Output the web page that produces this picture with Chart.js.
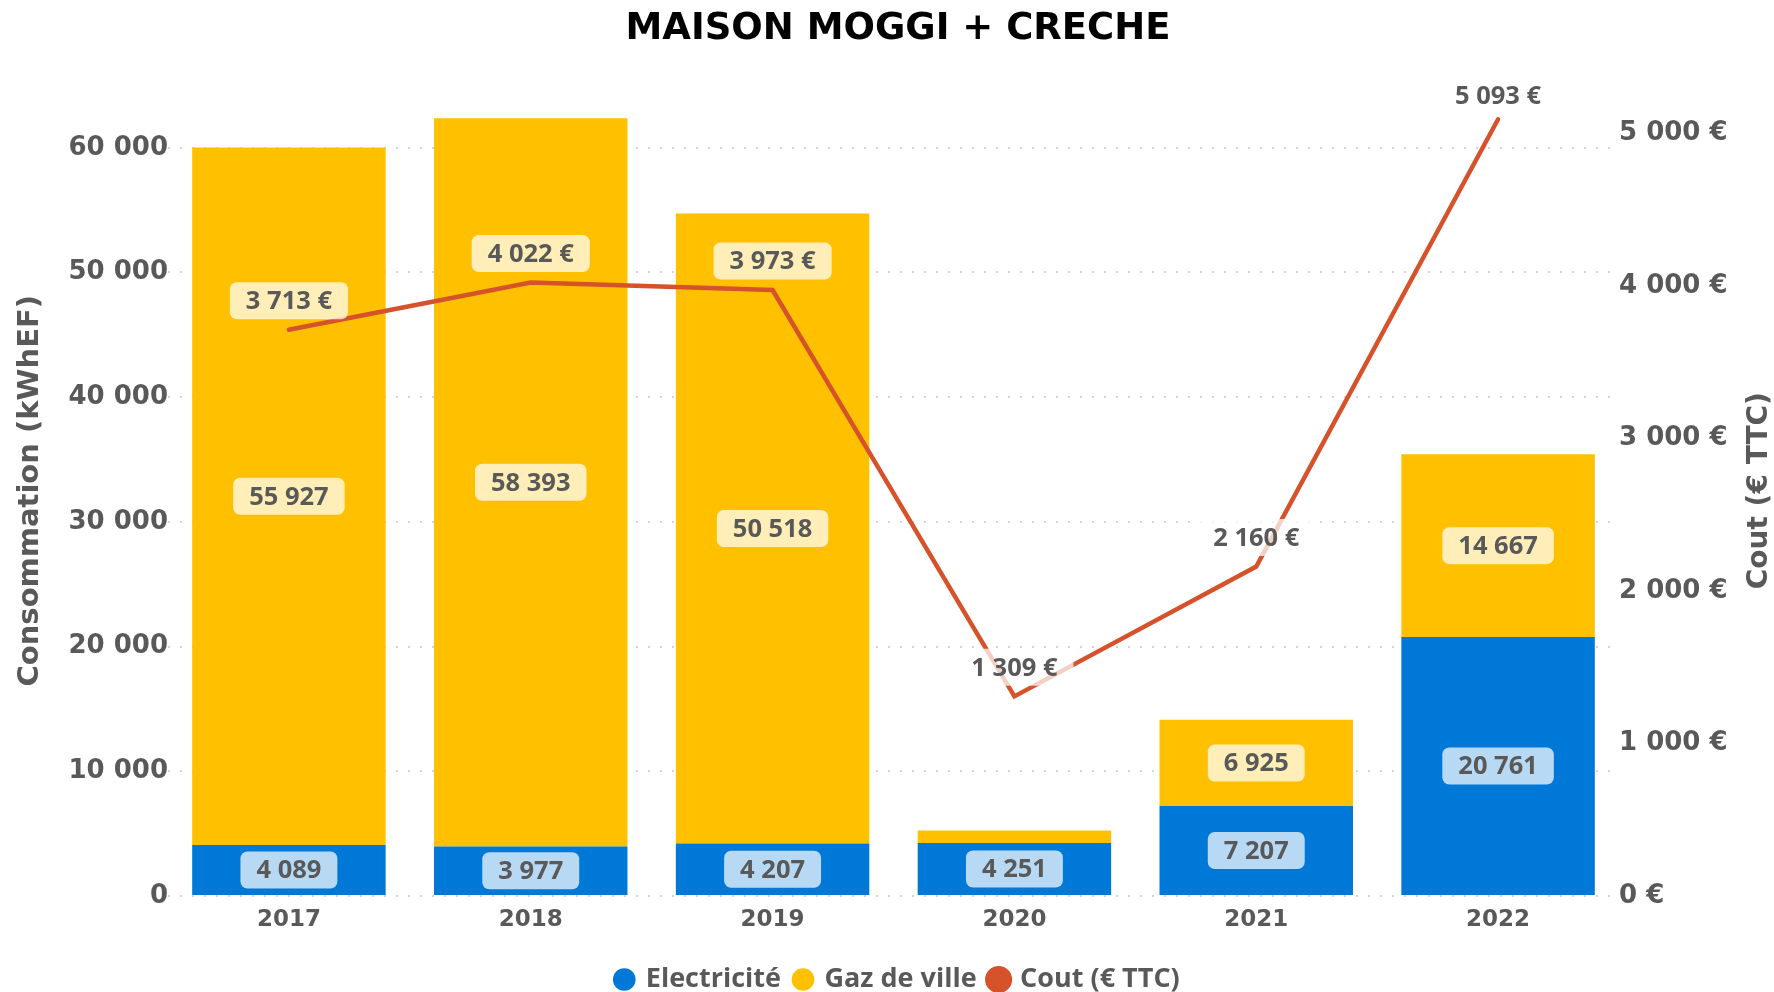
<!DOCTYPE html>
<html>
<head>
<meta charset="utf-8">
<title>MAISON MOGGI + CRECHE</title>
<script src="https://cdn.jsdelivr.net/npm/chart.js@4.4.0/dist/chart.umd.min.js"></script>
<style>
    html, body { margin: 0; padding: 0; background: #fff; }
</style>
</head>
<body>
<canvas id="consoChart" width="1774" height="992"></canvas>
<script>
var years = ['2017', '2018', '2019', '2020', '2021', '2022'];
var electricite = [4089, 3977, 4207, 4251, 7207, 20761];
var gazDeVille = [55927, 58393, 50518, 1000, 6925, 14667];
var cout = [3713, 4022, 3973, 1309, 2160, 5093];
var consoTicks = [0, 10000, 20000, 30000, 40000, 50000, 60000];
var coutTicks = [0, 1000, 2000, 3000, 4000, 5000];
var coutTitle = 'Cout (€ TTC)';

function fmt(v) {
    return String(v).replace(/\B(?=(\d{3})+(?!\d))/g, ' ');
}

// value boxes on bars and on the cost line
var etiquettes = {
    id: 'etiquettes',
    afterDatasetsDraw: function (chart) {
        var ctx = chart.ctx;
        ctx.save();
        ctx.font = 'bold 25.5px "Open Sans"';
        ctx.textAlign = 'center';
        ctx.textBaseline = 'middle';
        chart.data.datasets.forEach(function (ds, di) {
            var meta = chart.getDatasetMeta(di);
            meta.data.forEach(function (el, i) {
                var txt, y;
                if (ds.type === 'line') {
                    txt = fmt(ds.data[i]) + ' €';
                    y = Math.max(el.y - 29, 96);
                } else {
                    if (Math.abs(el.base - el.y) < 30) return;
                    txt = fmt(ds.data[i]);
                    y = (el.y + el.base) / 2;
                }
                var w = ctx.measureText(txt).width + 32, h = 37;
                ctx.fillStyle = 'rgba(255,255,255,0.72)';
                ctx.beginPath();
                ctx.roundRect(el.x - w / 2, y - h / 2, w, h, 7);
                ctx.fill();
                ctx.fillStyle = '#595959';
                ctx.fillText(txt, el.x, y + 1);
            });
        });
        ctx.restore();
    }
};

// right axis title reads bottom to top, like the left one
var titreDroite = {
    id: 'titreDroite',
    afterDraw: function (chart) {
        var ctx = chart.ctx, a = chart.chartArea;
        ctx.save();
        ctx.translate(1760, (a.top + a.bottom) / 2);
        ctx.rotate(-Math.PI / 2);
        ctx.font = 'bold 28px "DejaVu Sans"';
        ctx.fillStyle = '#595959';
        ctx.textAlign = 'center';
        ctx.textBaseline = 'middle';
        ctx.fillText(coutTitle, 0, 0);
        ctx.restore();
    }
};

var ctx = document.getElementById('consoChart').getContext('2d');
var consoChart = new Chart(ctx, {
    type: 'bar',
    data: {
        labels: years,
        datasets: [{
            label: 'Electricité',
            data: electricite,
            backgroundColor: '#0078D7',
            barPercentage: 0.8,
            categoryPercentage: 1
        }, {
            label: 'Gaz de ville',
            data: gazDeVille,
            backgroundColor: '#FFC000',
            barPercentage: 0.8,
            categoryPercentage: 1
        }, {
            type: 'line',
            label: coutTitle,
            data: cout,
            yAxisID: 'y1',
            borderColor: '#D5522B',
            backgroundColor: '#D5522B',
            borderWidth: 4.5,
            borderCapStyle: 'round',
            pointRadius: 0,
            tension: 0,
            order: -1
        }]
    },
    options: {
        responsive: false,
        animation: false,
        // title and legend sit a little right of the canvas centre
        layout: { padding: { top: 0, left: 11, right: -11, bottom: -11 } },
        scales: {
            x: {
                stacked: true,
                grid: { display: false, drawTicks: false },
                border: { display: false },
                ticks: {
                    color: '#595959',
                    font: { family: 'DejaVu Sans', weight: 'bold', size: 23 },
                    padding: 10
                },
                afterFit: function (s) { s.height = 56; }
            },
            y: {
                stacked: true,
                position: 'left',
                min: 0,
                max: 65000,
                afterBuildTicks: function (axis) {
                    axis.ticks = consoTicks.map(function (v) { return { value: v }; });
                },
                ticks: {
                    color: '#595959',
                    font: { family: 'DejaVu Sans', weight: 'bold', size: 26 },
                    padding: 0,
                    callback: function (v) { return fmt(v); }
                },
                grid: { color: '#D4D4D4', lineWidth: 2, drawTicks: false },
                border: { display: false, dash: [2, 10] },
                title: {
                    display: true,
                    text: 'Consommation (kWhEF)',
                    color: '#595959',
                    font: { family: 'DejaVu Sans', weight: 'bold', size: 29 },
                    padding: { top: 2, bottom: 0 }
                },
                afterFit: function (s) { s.width = 157; }
            },
            y1: {
                position: 'right',
                min: 0,
                max: 5315,
                afterBuildTicks: function (axis) {
                    axis.ticks = coutTicks.map(function (v) { return { value: v }; });
                },
                ticks: {
                    color: '#595959',
                    font: { family: 'DejaVu Sans', weight: 'bold', size: 26 },
                    padding: 0,
                    callback: function (v) { return fmt(v) + ' €'; }
                },
                grid: { drawOnChartArea: false, drawTicks: false },
                border: { display: false },
                afterFit: function (s) { s.width = 166; }
            }
        },
        plugins: {
            title: {
                display: true,
                text: 'MAISON MOGGI + CRECHE',
                color: '#000',
                font: { family: 'DejaVu Sans', weight: 'bold', size: 37, lineHeight: 1.2 },
                padding: { top: 7, bottom: 34 }
            },
            legend: {
                display: true,
                position: 'bottom',
                labels: {
                    usePointStyle: true,
                    pointStyle: 'circle',
                    boxWidth: 16,
                    boxHeight: 16,
                    padding: 14,
                    color: '#595959',
                    font: { family: 'Open Sans', weight: 'bold', size: 27 },
                    sort: function (a, b) { return a.datasetIndex - b.datasetIndex; }
                }
            },
            tooltip: { enabled: false }
        }
    },
    plugins: [etiquettes, titreDroite]
});
</script>
</body>
</html>
